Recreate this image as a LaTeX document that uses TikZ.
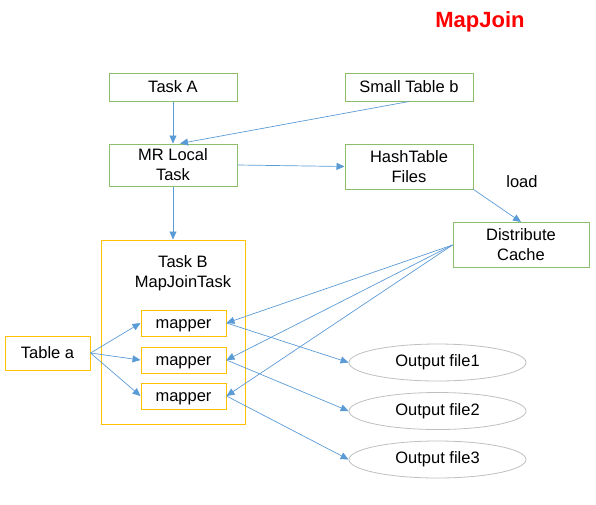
\documentclass[tikz,border=0pt]{standalone}
\usepackage{fontspec}
\setmainfont{Liberation Sans}
\usetikzlibrary{arrows.meta,shapes.geometric}
\definecolor{arr}{HTML}{5B9BD5}
\definecolor{grn}{HTML}{8DBF6A}
\definecolor{ylw}{HTML}{FFC000}
\definecolor{gry}{HTML}{BFBFBF}
\tikzset{
  txt/.style={font=\fontsize{16.5}{20}\selectfont},
  gbox/.style={txt, draw=grn, line width=1pt, minimum width=128pt, align=center, inner sep=0pt},
  ybox/.style={txt, draw=ylw, line width=1pt, align=center, inner sep=0pt},
  obox/.style={txt, draw=gry, line width=0.8pt, ellipse, minimum width=177pt, minimum height=37pt, inner sep=0pt},
  conn/.style={draw=arr, line width=0.7pt, -{Triangle[length=8pt,width=7pt]}},
}
\begin{document}
\begin{tikzpicture}[x=1pt,y=-1pt]
\useasboundingbox (0,0) rectangle (596,504);
\node[text=red, font=\bfseries\fontsize{22}{26}\selectfont] (title) at (480,22) {MapJoin};
\node[gbox, minimum height=28pt] (ta) at (173,87) {Task A};
\node[gbox, minimum height=28pt] (stb) at (409,87) {Small Table b};
\node[gbox, minimum height=42pt] (mr) at (173,165) {MR Local\\Task};
\node[gbox, minimum height=45pt] (ht) at (409,166.5) {HashTable\\Files};
\node[gbox, minimum width=136pt, minimum height=45pt] (dc) at (521,245) {Distribute\\Cache};
\node[ybox, minimum width=144pt, minimum height=184pt] (tb) at (173,332) {};
\node[txt, align=center] (tbl) at (183,273) {Task B\\MapJoinTask};
\node[ybox, minimum width=85pt, minimum height=26pt, text depth=3pt, text height=13pt] (m1) at (183.5,323) {mapper};
\node[ybox, minimum width=85pt, minimum height=26pt, text depth=3pt, text height=13pt] (m2) at (183.5,360) {mapper};
\node[ybox, minimum width=85pt, minimum height=26pt, text depth=3pt, text height=13pt] (m3) at (183.5,396) {mapper};
\node[ybox, minimum width=85pt, minimum height=34pt] (tabA) at (47.5,353) {Table a};
\node[obox] (o1) at (437.5,362.5) {Output file1};
\node[obox] (o2) at (437.5,411) {Output file2};
\node[obox] (o3) at (437.5,459.5) {Output file3};
\node[txt] (ld) at (522,182) {load};
\draw[conn] (ta) -- (mr);
\draw[conn] (stb.south) -- ([xshift=7pt]mr.north);
\draw[conn] (mr.east) -- (ht.west);
\draw[conn] (ht.south east) -- (dc.north);
\draw[conn] (mr) -- (tb.north);
\foreach \m in {m1,m2,m3} {
  \draw[conn] (tabA.east) -- (\m.west);
  \draw[conn] (dc.west) -- (\m.east);
}
\draw[conn] (m1.east) -- (o1.west);
\draw[conn] (m2.east) -- (o2.west);
\draw[conn] (m3.east) -- (o3.west);
\end{tikzpicture}
\end{document}
